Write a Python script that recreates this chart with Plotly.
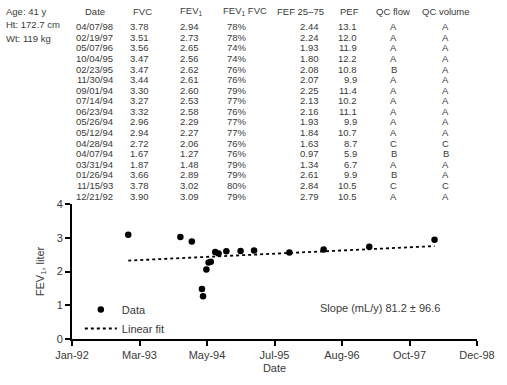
import numpy as np
import pandas as pd
import plotly.graph_objects as go

# ---------------- data ----------------
dates = ["04/07/98", "02/19/97", "05/07/96", "10/04/95", "02/23/95", "11/30/94",
         "09/01/94", "07/14/94", "06/23/94", "05/26/94", "05/12/94", "04/28/94",
         "04/07/94", "03/31/94", "01/26/94", "11/15/93", "12/21/92"]
fvc = ["3.78", "3.51", "3.56", "3.47", "3.47", "3.44", "3.30", "3.27", "3.32",
       "2.96", "2.94", "2.72", "1.67", "1.87", "3.66", "3.78", "3.90"]
fev1 = [2.94, 2.73, 2.65, 2.56, 2.62, 2.61, 2.60, 2.53, 2.58, 2.29, 2.27, 2.06,
        1.27, 1.48, 2.89, 3.02, 3.09]
fev1_fvc = ["78%", "78%", "74%", "74%", "76%", "76%", "79%", "77%", "76%", "77%",
            "77%", "76%", "76%", "79%", "79%", "80%", "79%"]
fef2575 = ["2.44", "2.24", "1.93", "1.80", "2.08", "2.07", "2.25", "2.13", "2.16",
           "1.93", "1.84", "1.63", "0.97", "1.34", "2.61", "2.84", "2.79"]
pef = ["13.1", "12.0", "11.9", "12.2", "10.8", "9.9", "11.4", "10.2", "11.1",
       "9.9", "10.7", "8.7", "5.9", "6.7", "9.9", "10.5", "10.5"]
qc_flow = ["A", "A", "A", "A", "B", "A", "A", "A", "A", "A", "A", "C", "B", "A",
           "B", "C", "A"]
qc_volume = ["A", "A", "A", "A", "A", "A", "A", "A", "A", "A", "A", "C", "B", "A",
             "A", "C", "A"]
patient_info = ["Age: 41 y", "Ht: 172.7 cm", "Wt: 119 kg"]
slope_text = "Slope (mL/y) 81.2 \u00b1 96.6"

x_tick_vals = ["1992-01-01", "1993-03-02", "1994-05-02", "1995-07-02",
               "1996-08-31", "1997-10-31", "1998-12-31"]
x_tick_text = ["Jan-92", "Mar-93", "May-94", "Jul-95", "Aug-96", "Oct-97", "Dec-98"]

# ---------------- derived ----------------
dt = pd.to_datetime(dates, format="%m/%d/%y")
order = np.argsort(dt.values)
dt_sorted = dt[order]
fev_sorted = np.array(fev1)[order]
t_years = (dt_sorted - pd.Timestamp("1992-01-01")).days.values / 365.25
coef = np.polyfit(t_years, fev_sorted, 1)
fit_y = np.polyval(coef, t_years[[0, -1]])
fit_x = dt_sorted[[0, -1]]

# ---------------- layout helpers ----------------
W, H = 507, 385
L, R, T, B = 72, 21, 204, 43
PW, PH = W - L - R, H - T - B


def px(x):
    return (x - L) / PW


def py(y):
    return (H - B - y) / PH


FONT = "Liberation Sans, Arial, sans-serif"
TXT = "#3a3a3a"

fig = go.Figure()
fig.add_trace(go.Scatter(
    x=dt, y=fev1, mode="markers", name="Data",
    marker=dict(color="black", size=6.5, line=dict(width=0)),
))
fig.add_trace(go.Scatter(
    x=fit_x, y=fit_y, mode="lines", name="Linear fit",
    line=dict(color="black", width=1.8, dash="dot"),
))

annotations = []


def add_text(x, y, text, align="center", size=9.5):
    annotations.append(dict(
        x=px(x), y=py(y), xref="paper", yref="paper", text=text,
        showarrow=False, xanchor=align, yanchor="middle",
        font=dict(family=FONT, size=size, color=TXT),
    ))


# patient info
for i, s in enumerate(patient_info):
    add_text(2, 7 + i * 14, s, align="left", size=9.5)

# header
header_y = 7
add_text(96, header_y, "Date")
add_text(144, header_y, "FVC")
add_text(194, header_y, "FEV<sub>1</sub>")
add_text(249, header_y, "FEV<sub>1</sub> FVC")
add_text(306, header_y, "FEF 25\u201375")
add_text(356, header_y, "PEF")
add_text(400, header_y, "QC flow")
add_text(454, header_y, "QC volume")

row0, dy = 22.7, 10.83
for i in range(len(dates)):
    yy = row0 + i * dy
    add_text(95, yy, dates[i])
    add_text(141, yy, fvc[i])
    add_text(192, yy, f"{fev1[i]:.2f}")
    add_text(253, yy, fev1_fvc[i], align="right")
    add_text(315, yy, fef2575[i])
    add_text(365, yy, pef[i], align="right")
    add_text(401, yy, qc_flow[i])
    add_text(454, yy, qc_volume[i])

annotations.append(dict(
    x=px(387), y=py(310), xref="paper", yref="paper", text=slope_text,
    showarrow=False, xanchor="center", yanchor="middle",
    font=dict(family=FONT, size=11, color=TXT),
))

fig.update_layout(
    width=W, height=H,
    margin=dict(l=L, r=R, t=T, b=B),
    paper_bgcolor="white", plot_bgcolor="white",
    font=dict(family=FONT, size=11, color=TXT),
    showlegend=True,
    legend=dict(x=px(80), y=py(297), xanchor="left", yanchor="top",
                bgcolor="rgba(0,0,0,0)", font=dict(size=11, color=TXT),
                tracegroupgap=0, itemwidth=32),
    annotations=annotations,
)
fig.update_xaxes(
    type="date", range=["1992-01-01", "1998-12-31"],
    tickvals=x_tick_vals, ticktext=x_tick_text, ticklabeloverflow="allow",
    showline=True, linecolor="black", linewidth=2,
    ticks="outside", ticklen=5, tickwidth=2, tickcolor="black",
    showgrid=False, zeroline=False,
    tickfont=dict(size=11, color=TXT),
    title=dict(text="Date", font=dict(size=11, color=TXT), standoff=4),
)
fig.update_yaxes(
    range=[0, 4], tickvals=[0, 1, 2, 3, 4],
    showline=True, linecolor="black", linewidth=2,
    ticks="outside", ticklen=5, tickwidth=2, tickcolor="black",
    showgrid=False, zeroline=False,
    tickfont=dict(size=11, color=TXT),
    title=dict(text="FEV<sub>1</sub>, liter", font=dict(size=11, color=TXT), standoff=10),
)

fig.write_html("out.html", config={"displayModeBar": False},
               post_script="document.body.style.margin='0px';")
